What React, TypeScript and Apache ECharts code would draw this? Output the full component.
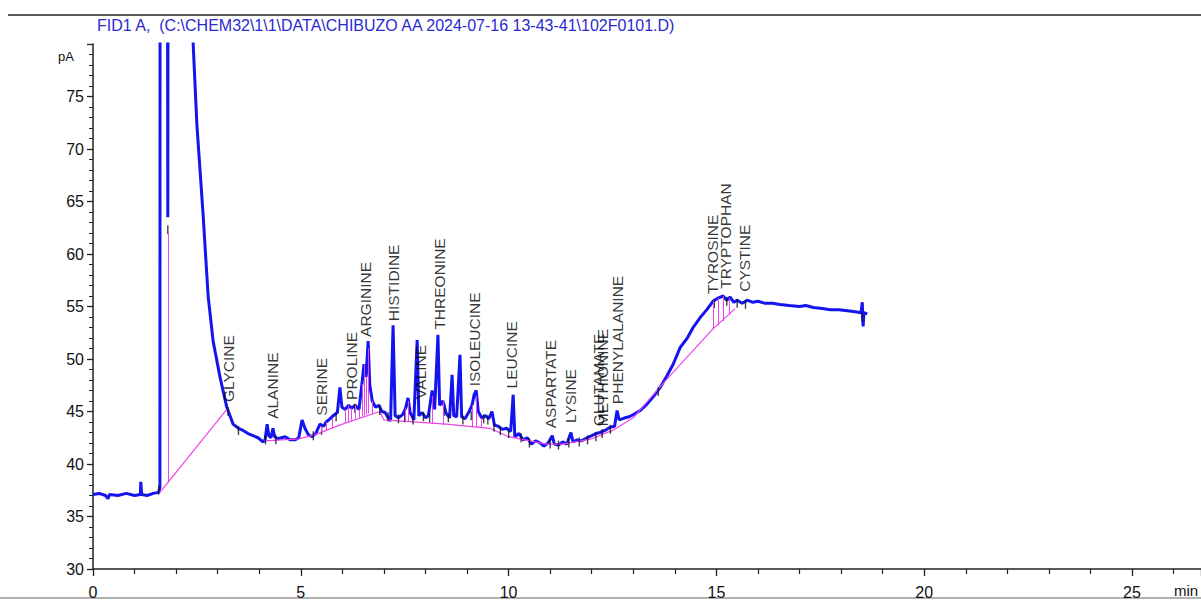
import React, { useEffect, useRef } from "react";
import * as echarts from "echarts";

// ---- chromatogram trace (min, pA) ----
const traceTime = [
  0.0, 0.15, 0.3, 0.36, 0.4, 0.6, 0.8, 1.0, 1.14, 1.15, 1.17, 1.3, 1.45, 1.58, 1.61, 1.63, 1.76, 1.8, 1.83, 2.3,
  2.41, 2.5, 2.65, 2.77, 2.89, 3.06, 3.22, 3.37, 3.5, 3.61, 3.73, 3.85, 3.97, 4.09, 4.14, 4.19, 4.23, 4.28, 4.33, 4.37,
  4.45, 4.62, 4.75, 4.86, 4.95, 5.03, 5.1, 5.18, 5.27, 5.36, 5.46, 5.55, 5.61, 5.7, 5.78, 5.88, 5.94, 5.99, 6.07, 6.15,
  6.22, 6.31, 6.4, 6.47, 6.52, 6.57, 6.62, 6.66, 6.72, 6.8, 6.88, 6.95, 7.03, 7.1, 7.16, 7.22, 7.27, 7.35, 7.45, 7.52,
  7.58, 7.63, 7.72, 7.8, 7.84, 7.92, 8.0, 8.07, 8.16, 8.22, 8.3, 8.34, 8.42, 8.5, 8.58, 8.64, 8.68, 8.75, 8.83, 8.87,
  8.95, 9.05, 9.12, 9.17, 9.22, 9.27, 9.35, 9.45, 9.52, 9.6, 9.66, 9.75, 9.85, 9.95, 10.05, 10.11, 10.15, 10.25, 10.35, 10.45,
  10.55, 10.65, 10.76, 10.85, 10.95, 11.05, 11.1, 11.2, 11.3, 11.4, 11.5, 11.55, 11.65, 11.75, 11.89, 12.0, 12.1, 12.2, 12.32, 12.44,
  12.55, 12.61, 12.66, 12.8, 12.9, 13.0, 13.17, 13.33, 13.48, 13.65, 13.81, 13.96, 14.13, 14.3, 14.44, 14.6, 14.77, 14.92, 15.04, 15.16,
  15.25, 15.33, 15.42, 15.5, 15.62, 15.74, 15.88, 16.0, 16.17, 16.35, 16.53, 16.75, 17.0, 17.15, 17.33, 17.55, 17.74, 17.95, 18.15, 18.34,
  18.48, 18.51, 18.53, 18.55, 18.63,
];
const traceSignal = [
  37.1, 37.2, 37.0, 36.7, 37.1, 37.0, 37.2, 37.0, 37.1, 38.3, 37.1, 37.0, 37.2, 37.3, 37.8, 300, 200, 63.5, 200, 110,
  80.0, 72.3, 63.7, 56.0, 51.7, 48.2, 45.4, 43.8, 43.4, 43.2, 42.9, 42.7, 42.5, 42.1, 42.3, 43.8, 42.7, 42.5, 43.4, 42.6,
  42.4, 42.6, 42.3, 42.3, 42.5, 44.2, 43.4, 42.8, 42.6, 42.9, 43.8, 43.6, 44.0, 44.3, 44.6, 44.9, 47.3, 45.4, 45.2, 45.6,
  45.3, 45.6, 45.2, 47.6, 49.5, 48.3, 51.7, 47.5, 46.0, 45.4, 45.6, 45.0, 44.9, 44.4, 44.1, 53.2, 44.6, 44.4, 44.7, 45.3,
  46.3, 44.9, 44.2, 51.8, 44.6, 44.9, 44.4, 44.6, 47.0, 45.2, 52.3, 45.6, 46.0, 44.8, 44.4, 48.5, 44.6, 44.5, 50.4, 44.5,
  44.3, 45.0, 45.6, 46.6, 47.0, 45.0, 44.4, 44.6, 44.3, 45.0, 43.7, 43.6, 43.3, 43.4, 43.1, 46.6, 42.6, 42.9, 42.3, 42.5,
  41.9, 42.2, 42.0, 41.7, 42.0, 42.7, 41.9, 41.8, 42.1, 41.9, 43.0, 42.1, 42.3, 42.2, 42.5, 42.7, 42.9, 43.0, 43.2, 43.5,
  43.6, 45.1, 44.2, 44.4, 44.5, 44.7, 45.1, 45.7, 46.4, 47.3, 48.4, 49.5, 51.1, 52.0, 53.0, 53.9, 54.7, 55.5, 55.8, 56.0,
  55.6, 55.9, 55.4, 55.6, 55.3, 55.6, 55.4, 55.5, 55.3, 55.3, 55.2, 55.1, 55.0, 55.1, 54.9, 54.8, 54.7, 54.7, 54.6, 54.5,
  54.4, 55.4, 53.1, 54.4, 54.3,
];

// ---- integration baselines ----
const baselineATime = [1.61, 3.22];
const baselineAValue = [37.3, 45.2];
const baselineBTime = [4.12, 4.95, 5.35, 6.0, 6.9, 7.0, 8.5, 9.55, 10.0, 10.9, 11.3, 12.0, 12.5, 13.0, 13.7, 14.9, 15.45];
const baselineBValue = [42.2, 42.4, 42.8, 43.8, 45.0, 44.2, 43.8, 43.4, 42.6, 41.9, 41.9, 42.4, 43.2, 44.4, 47.6, 52.8, 54.8];

// ---- drop lines (time, baseline, signal) ----
const dropTime = [1.8, 5.5, 5.62, 5.75, 6.07, 6.15, 6.22, 6.31, 6.4, 6.47, 6.52, 6.57, 6.62, 6.72, 7.52, 7.58, 8.16, 8.42, 9.12, 9.22, 9.35, 14.92, 15.04, 15.16, 15.3];
const dropBase = [38.2, 43.0, 43.2, 43.4, 43.9, 44.0, 44.1, 44.3, 44.4, 44.5, 44.6, 44.7, 44.8, 44.8, 44.0, 44.0, 43.8, 43.7, 43.5, 43.5, 43.5, 52.8, 53.2, 53.6, 54.2];
const dropTop = [62.0, 43.6, 44.0, 44.4, 45.2, 45.6, 45.3, 45.6, 45.2, 47.6, 49.5, 48.3, 51.0, 46.0, 45.3, 46.0, 46.5, 46.0, 45.6, 46.5, 44.4, 55.5, 55.8, 56.0, 55.8];

// ---- peak start/end tick marks ----
const tickTime = [1.58, 1.8, 3.25, 3.5, 4.15, 4.4, 5.3, 5.5, 5.85, 6.3, 6.9, 7.1, 7.35, 7.5, 7.7, 7.95, 8.1, 8.45, 8.55, 8.9, 9.1, 9.4, 9.5, 9.65, 9.8, 10.0, 10.3, 10.5, 11.0, 11.2, 11.45, 11.7, 11.9, 12.1, 12.25, 12.45, 13.6, 14.95, 15.25, 15.5, 15.7, 18.5];
const tickValue = [37.5, 62.3, 45.0, 43.2, 42.3, 42.3, 42.7, 43.2, 44.5, 45.3, 45.1, 44.5, 44.3, 44.4, 44.2, 44.5, 44.4, 45.0, 44.4, 44.2, 44.6, 44.3, 44.2, 43.5, 43.2, 42.9, 42.5, 42.0, 41.9, 41.8, 42.0, 42.1, 42.3, 42.6, 42.9, 43.3, 46.9, 55.3, 55.5, 55.3, 55.2, 54.0];

// ---- peak labels ----
const peakNames = ["GLYCINE", "ALANINE", "SERINE", "PROLINE", "ARGININE", "HISTIDINE", "VALINE", "THREONINE", "ISOLEUCINE", "LEUCINE", "ASPARTATE", "LYSINE", "GLUTAMATE", "METHIONINE", "PHENYLALANINE", "TYROSINE", "TRYPTOPHAN", "CYSTINE"];
const peakTime = [3.27, 4.33, 5.49, 6.23, 6.55, 7.24, 7.89, 8.33, 9.17, 10.08, 11.02, 11.48, 12.17, 12.25, 12.61, 14.9, 15.23, 15.67];
const peakLabelY = [45.9, 44.3, 44.6, 46.1, 52.1, 53.6, 46.2, 52.8, 47.4, 47.2, 43.4, 43.9, 43.6, 43.6, 45.7, 56.2, 56.7, 56.4];

const TITLE = "FID1 A,  (C:\\CHEM32\\1\\1\\DATA\\CHIBUZO AA 2024-07-16 13-43-41\\102F0101.D)";
const FONT = "Liberation Sans, Arial, sans-serif";
const X_MAX = 26.66;

export default function App() {
  const ref = useRef<HTMLDivElement>(null);
  useEffect(() => {
    if (!ref.current) return;
    const chart = echarts.init(ref.current, null, { renderer: "svg", width: 1201, height: 600 });
    const zip = (a: number[], b: number[]) => a.map((v, i) => [v, b[i]]);
    const option: any = {
      animation: false,
      backgroundColor: "#ffffff",
      grid: { left: 93, top: 44, width: 1108, height: 534 },
      xAxis: {
        type: "value",
        min: 0,
        max: X_MAX,
        interval: 5,
        axisLine: { lineStyle: { color: "#222", width: 1.5 } },
        axisTick: { length: 7, lineStyle: { color: "#222", width: 1.3 } },
        minorTick: { show: true, splitNumber: 5, length: 5, lineStyle: { color: "#222", width: 1.2 } },
        splitLine: { show: false },
        axisLabel: {
          margin: 15,
          fontSize: 16,
          color: "#111",
          fontFamily: FONT,
          showMaxLabel: false,
          formatter: (v: number) => (v % 5 === 0 ? String(v) : ""),
        },
      },
      yAxis: {
        type: "value",
        min: 30,
        max: 80,
        interval: 5,
        axisLine: { show: true, lineStyle: { color: "#222", width: 1.5 } },
        axisTick: { show: true, length: 6, lineStyle: { color: "#222", width: 1.3 } },
        minorTick: { show: true, splitNumber: 5, length: 4, lineStyle: { color: "#222", width: 1 } },
        splitLine: { show: false },
        axisLabel: {
          margin: 9,
          fontSize: 16,
          color: "#111",
          fontFamily: FONT,
          formatter: (v: number) => (v >= 80 ? "" : String(v)),
        },
      },
      series: [
        {
          type: "line",
          data: zip(traceTime, traceSignal),
          showSymbol: false,
          symbol: "none",
          lineStyle: { color: "#1414f0", width: 3 },
          z: 2,
        },
        {
          type: "line",
          data: zip(baselineATime, baselineAValue),
          showSymbol: false,
          symbol: "none",
          lineStyle: { color: "#ee44ee", width: 1.2 },
          z: 3,
        },
        {
          type: "line",
          data: zip(baselineBTime, baselineBValue),
          showSymbol: false,
          symbol: "none",
          lineStyle: { color: "#ee44ee", width: 1.2 },
          z: 3,
          markLine: {
            silent: true,
            symbol: "none",
            label: { show: false },
            lineStyle: { color: "#ee44ee", width: 1, type: "solid" },
            data: dropTime.map((t, i) => [{ coord: [t, dropBase[i]] }, { coord: [t, dropTop[i]] }]),
          },
        },
        {
          type: "scatter",
          data: zip(tickTime, tickValue),
          symbol: "rect",
          symbolSize: [1.4, 9],
          itemStyle: { color: "#111" },
          z: 4,
        },
        {
          type: "scatter",
          data: peakTime.map((t, i) => ({ name: peakNames[i], value: [t, peakLabelY[i]] })),
          symbolSize: 0,
          itemStyle: { color: "transparent" },
          z: 5,
          label: {
            show: true,
            position: "inside",
            rotate: 90,
            align: "left",
            verticalAlign: "middle",
            formatter: "{b}",
            fontSize: 15.5,
            fontFamily: FONT,
            color: "#000",
          },
        },
      ],
      graphic: [
        { type: "line", shape: { x1: 8, y1: 15, x2: 1201, y2: 15 }, style: { stroke: "#222", lineWidth: 1.5 } },
        { type: "line", shape: { x1: 0, y1: 598, x2: 1201, y2: 598 }, style: { stroke: "#999", lineWidth: 1.5 } },
        { type: "text", x: 97, y: 17, style: { text: TITLE, fill: "#2a2ad0", font: `16px ${FONT}` } },
        { type: "text", x: 58, y: 50, style: { text: "pA", fill: "#111", font: `13px ${FONT}` } },
        { type: "text", x: 1174, y: 583, style: { text: "min", fill: "#111", font: `15px ${FONT}` } },
      ],
    };
    chart.setOption(option);
    return () => chart.dispose();
  }, []);
  return (
    <div
      ref={ref}
      style={{ position: "fixed", left: 0, top: 0, width: 1201, height: 600, background: "#fff" }}
    />
  );
}
